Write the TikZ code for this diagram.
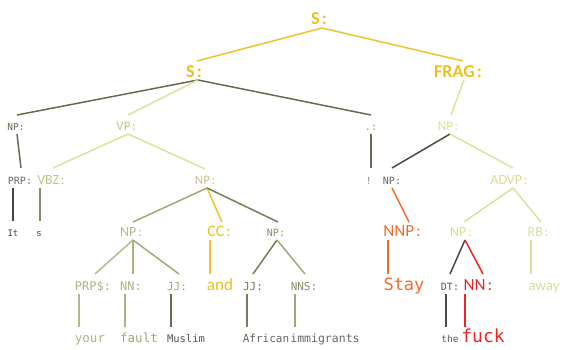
\documentclass[tikz,border=0pt]{standalone}
\usepackage{fontspec}
\newfontfamily\tagfont{Carlito}
\newfontfamily\wordfont{DejaVu Sans Mono}
\definecolor{cGold}{HTML}{EEBF1C}
\definecolor{cGoldLine}{HTML}{F0C230}
\definecolor{cPale}{HTML}{E0E09C}
\definecolor{cPaleTxt}{HTML}{DCDC96}
\definecolor{cOliveTxt}{HTML}{C4C48A}
\definecolor{cOliveA}{HTML}{B8B890}
\definecolor{cOliveB}{HTML}{B0B086}
\definecolor{cOliveC}{HTML}{A6A67C}
\definecolor{cOliveD}{HTML}{8C8C6A}
\definecolor{cOliveE}{HTML}{7A7A5C}
\definecolor{cDark}{HTML}{6A6A52}
\definecolor{cDarker}{HTML}{4A4A42}
\definecolor{cGrayA}{HTML}{444444}
\definecolor{cGrayB}{HTML}{555555}
\definecolor{cGrayC}{HTML}{666666}
\definecolor{cGrayD}{HTML}{888888}
\definecolor{cOrange}{HTML}{F26A2C}
\definecolor{cRed}{HTML}{EE2424}
\newcommand\tagc[1]{#1\kern0.12em:}
\tikzset{
  lbl/.style={inner sep=0pt, anchor=base},
  sans/.style={lbl, font=\tagfont\fontsize{#1}{#1}\selectfont},
  mono/.style={lbl, font=\wordfont\fontsize{#1}{#1}\selectfont},
  branch/.style={line width=1.5pt, draw=#1},
}
\begin{document}
\begin{tikzpicture}[x=1pt, y=-1pt]
\useasboundingbox (0,0) rectangle (566,350);

% clause and phrase labels
\node[sans=18, text=cGold] (s0)   at (319,25) {\bfseries\tagc{S}};
\node[sans=18, text=cGold] (s1)   at (194,78) {\bfseries\tagc{S}};
\node[sans=18, text=cGold] (frag) at (458,78) {\bfseries\tagc{FRAG}};

\node[mono=9.5, text=cDark]    (npL)   at (16,131)  {NP:};
\node[sans=13, text=cOliveTxt] (vp)    at (126,131) {\tagc{VP}};
\node[mono=10, text=cGrayD]    (punct) at (371,131) {.:};
\node[sans=13, text=cPaleTxt]  (npR)   at (448,131) {\tagc{NP}};

\node[mono=10, text=cGrayC]    (prp)  at (20,185)  {PRP:};
\node[sans=14, text=cOliveTxt] (vbz)  at (51,185)  {\tagc{VBZ}};
\node[sans=13, text=cOliveTxt] (npM)  at (205,185) {\tagc{NP}};
\node[mono=10, text=cGrayD]    (excl) at (369,185) {!};
\node[mono=10, text=cGrayC]    (np2)  at (392,185) {NP:};
\node[sans=14, text=cPaleTxt]  (advp) at (509,185) {\tagc{ADVP}};

\node[mono=9, text=cGrayA]     (it)  at (13,237)  {It};
\node[mono=9, text=cGrayA]     (s)   at (39,237)  {s};
\node[sans=14, text=cOliveA]   (np3) at (131,237) {\tagc{NP}};
\node[sans=16, text=cGold]     (cc)  at (219,237) {\tagc{CC}};
\node[mono=10, text=cOliveD]   (np4) at (276,237) {NP:};
\node[sans=17, text=cOrange]   (nnp) at (402,237) {\tagc{NNP}};
\node[sans=14, text=cPaleTxt]  (np5) at (461,237) {\tagc{NP}};
\node[sans=14, text=cPaleTxt]  (rb)  at (538,237) {\tagc{RB}};

\node[mono=12, text=cOliveB]   (prps) at (93,291)  {PRP\$:};
\node[mono=12, text=cOliveB]   (nn1)  at (131,291) {NN:};
\node[mono=11, text=cOliveC]   (jj1)  at (177,291) {JJ:};
\node[sans=17, text=cGold]     (and)  at (220,291) {and};
\node[mono=11, text=cOliveE]   (jj2)  at (253,291) {JJ:};
\node[mono=11, text=cOliveD]   (nns)  at (304,291) {NNS:};
\node[mono=17, text=cOrange]   (stay) at (404,291) {Stay};
\node[mono=10, text=cGrayB]    (dt)   at (450,291) {DT:};
\node[sans=17, text=cRed]      (nn2)  at (478,291) {\tagc{NN}};
\node[sans=15, text=cPaleTxt]  (away) at (544,291) {away};

% leaf words
\node[mono=12.5, text=cOliveB] (your)    at (90,343)  {your};
\node[mono=12.5, text=cOliveC] (fault)   at (139,343) {fault};
\node[mono=10.5, text=cGrayB]  (muslim)  at (186,343) {Muslim};
\node[mono=11, text=cGrayC]    (african) at (266,343) {African};
\node[mono=11.5, text=cGrayC]  (immig)   at (325,343) {immigrants};
\node[mono=9.5, text=cGrayB]   (the)     at (450,343) {the};
\node[mono=18, text=cRed]      (fuck)    at (483,343) {fuck};

% branches
\draw[branch=cGoldLine] ([xshift=3pt,yshift=-3pt]s0.base) -- ([xshift=3pt,yshift=17pt]s1.base);
\draw[branch=cGoldLine] ([xshift=3pt,yshift=-3pt]s0.base) -- ([xshift=5pt,yshift=17pt]frag.base);

\draw[branch=cDark] ([xshift=4pt,yshift=-2pt]s1.base) -- ([xshift=1pt,yshift=16pt]npL.base);
\draw[branch=cPale] ([xshift=4pt,yshift=-2pt]s1.base) -- ([xshift=2pt,yshift=16pt]vp.base);
\draw[branch=cDark] ([xshift=4pt,yshift=-2pt]s1.base) -- ([xshift=0pt,yshift=16pt]punct.base);
\draw[branch=cPale] ([xshift=6pt,yshift=-2pt]frag.base) -- ([xshift=3pt,yshift=16pt]npR.base);

\draw[branch=cDark]  ([xshift=1pt,yshift=-3pt]npL.base) -- ([xshift=1pt,yshift=17pt]prp.base);
\draw[branch=cPale]  ([xshift=2pt,yshift=-3pt]vp.base) -- ([xshift=2pt,yshift=17pt]vbz.base);
\draw[branch=cPale]  ([xshift=2pt,yshift=-3pt]vp.base) -- ([xshift=0pt,yshift=16pt]npM.base);
\draw[branch=cDark]  ([xshift=0pt,yshift=-3pt]punct.base) -- ([xshift=2pt,yshift=17pt]excl.base);
\draw[branch=cDarker]([xshift=2pt,yshift=-3pt]npR.base) -- ([xshift=0pt,yshift=17pt]np2.base);
\draw[branch=cPale]  ([xshift=2pt,yshift=-3pt]npR.base) -- ([xshift=4pt,yshift=17pt]advp.base);

\draw[branch=cGrayA]     ([xshift=-7pt,yshift=-3pt]prp.base) -- ([xshift=0pt,yshift=16pt]it.base);
\draw[branch=cOliveD]    ([xshift=-11pt,yshift=-3pt]vbz.base) -- ([xshift=1pt,yshift=16pt]s.base);
\draw[branch=cOliveC]    ([xshift=2pt,yshift=-3pt]npM.base) -- ([xshift=2pt,yshift=15pt]np3.base);
\draw[branch=cGoldLine]  ([xshift=2pt,yshift=-3pt]npM.base) -- ([xshift=3pt,yshift=15pt]cc.base);
\draw[branch=cOliveE]    ([xshift=2pt,yshift=-3pt]npM.base) -- ([xshift=2pt,yshift=15pt]np4.base);
\draw[branch=cOrange]    ([xshift=0pt,yshift=-3pt]np2.base) -- ([xshift=7pt,yshift=15pt]nnp.base);
\draw[branch=cPale]      ([xshift=4pt,yshift=-3pt]advp.base) -- ([xshift=3pt,yshift=15pt]np5.base);
\draw[branch=cPale]      ([xshift=4pt,yshift=-3pt]advp.base) -- ([xshift=3pt,yshift=15pt]rb.base);

\draw[branch=cOliveA]   ([xshift=2pt,yshift=-3pt]np3.base) -- ([xshift=2pt,yshift=17pt]prps.base);
\draw[branch=cOliveB]   ([xshift=2pt,yshift=-3pt]np3.base) -- ([xshift=2pt,yshift=17pt]nn1.base);
\draw[branch=cOliveC]   ([xshift=2pt,yshift=-3pt]np3.base) -- ([xshift=2pt,yshift=17pt]jj1.base);
\draw[branch=cGoldLine] ([xshift=-9pt,yshift=-3pt]cc.base) -- ([xshift=-10pt,yshift=17pt]and.base);
\draw[branch=cOliveE]   ([xshift=1pt,yshift=-3pt]np4.base) -- ([xshift=0pt,yshift=17pt]jj2.base);
\draw[branch=cOliveC]   ([xshift=1pt,yshift=-3pt]np4.base) -- ([xshift=1pt,yshift=17pt]nns.base);
\draw[branch=cOrange]   ([xshift=-14pt,yshift=-3pt]nnp.base) -- ([xshift=-16pt,yshift=17pt]stay.base);
\draw[branch=cDarker]   ([xshift=4pt,yshift=-3pt]np5.base) -- ([xshift=0pt,yshift=17pt]dt.base);
\draw[branch=cRed]      ([xshift=4pt,yshift=-3pt]np5.base) -- ([xshift=5pt,yshift=17pt]nn2.base);
\draw[branch=cPale]     ([xshift=-7pt,yshift=-3pt]rb.base) -- ([xshift=-13pt,yshift=17pt]away.base);

\draw[branch=cOliveA] ([xshift=-14pt,yshift=-3pt]prps.base) -- ([xshift=-11pt,yshift=16pt]your.base);
\draw[branch=cOliveB] ([xshift=-6pt,yshift=-3pt]nn1.base) -- ([xshift=-14pt,yshift=16pt]fault.base);
\draw[branch=cDark]   ([xshift=-6pt,yshift=-3pt]jj1.base) -- ([xshift=-15pt,yshift=16pt]muslim.base);
\draw[branch=cOliveE] ([xshift=-6pt,yshift=-3pt]jj2.base) -- ([xshift=-19pt,yshift=16pt]african.base);
\draw[branch=cOliveC] ([xshift=-9pt,yshift=-3pt]nns.base) -- ([xshift=-30pt,yshift=16pt]immig.base);
\draw[branch=cDarker] ([xshift=-4pt,yshift=-3pt]dt.base) -- ([xshift=-4pt,yshift=16pt]the.base);
\draw[branch=cRed]    ([xshift=-13pt,yshift=-3pt]nn2.base) -- ([xshift=-18pt,yshift=16pt]fuck.base);
\end{tikzpicture}
\end{document}
